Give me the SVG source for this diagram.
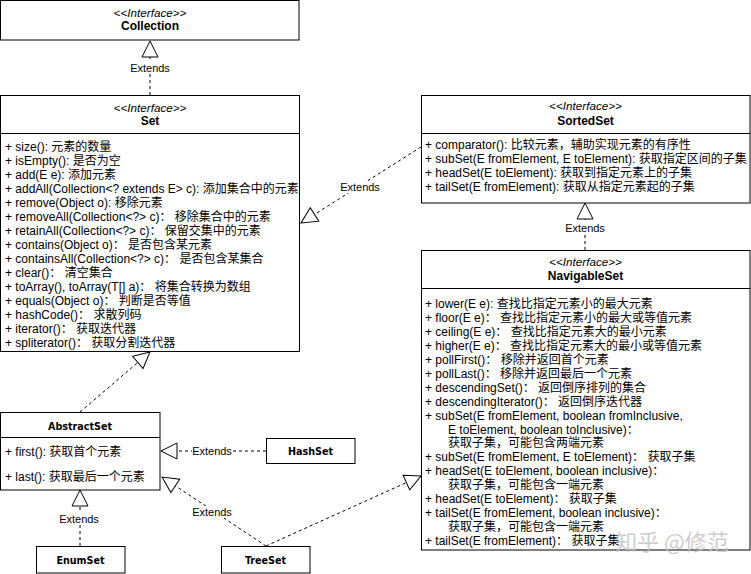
<svg xmlns="http://www.w3.org/2000/svg" width="751" height="574" viewBox="0 0 751 574">
<style>
.box{fill:#fff;stroke:#000;stroke-width:1}
.div{stroke:#000;stroke-width:1}
.st{font-family:"Liberation Sans","Noto Sans CJK SC",sans-serif;font-style:italic;font-size:11.7px;text-anchor:middle;fill:#000}
.nm{font-family:"Liberation Sans","Noto Sans CJK SC",sans-serif;font-weight:bold;font-size:12px;text-anchor:middle;fill:#000}
.cl{font-family:"DejaVu Sans",sans-serif;font-weight:bold;font-size:9.6px;text-anchor:middle;fill:#000}
.t{font-family:"Liberation Sans","Noto Sans CJK SC",sans-serif;font-size:12px;fill:#000}
.lbl{font-family:"Liberation Sans",sans-serif;font-size:11px;text-anchor:middle;fill:#000}
.edge{fill:none;stroke:#000;stroke-width:1;stroke-dasharray:3 3;marker-end:url(#tri)}
.lblbg{fill:#fff}
</style>
<defs>
<marker id="tri" markerUnits="userSpaceOnUse" markerWidth="18" markerHeight="18" viewBox="-17 -9 18 18" refX="0" refY="0" orient="auto" overflow="visible">
<path d="M0,0 L-16,-8 L-16,8 Z" fill="#fff" stroke="#000" stroke-width="1" stroke-dasharray="none"/>
</marker>
</defs>
<rect width="751" height="574" fill="#fff"/>

<g id="connectors">
<line class="edge" x1="150" y1="95" x2="150" y2="41"/>
<line class="edge" x1="421" y1="147" x2="301" y2="223"/>
<line class="edge" x1="585" y1="250" x2="585" y2="203"/>
<line class="edge" x1="80" y1="412" x2="150" y2="352"/>
<line class="edge" x1="266" y1="451" x2="161" y2="451"/>
<line class="edge" x1="80" y1="546" x2="80" y2="490"/>
<line class="edge" x1="266" y1="546" x2="162" y2="477"/>
<line class="edge" x1="266" y1="546" x2="421" y2="476"/>
<rect class="lblbg" x="130" y="62" width="40" height="12"/>
<text class="lbl" x="150" y="72">Extends</text>
<rect class="lblbg" x="340" y="181" width="40" height="12"/>
<text class="lbl" x="360" y="191">Extends</text>
<rect class="lblbg" x="565" y="222" width="40" height="12"/>
<text class="lbl" x="585" y="232">Extends</text>
<rect class="lblbg" x="192" y="445" width="40" height="12"/>
<text class="lbl" x="212" y="455">Extends</text>
<rect class="lblbg" x="59" y="513" width="40" height="12"/>
<text class="lbl" x="79" y="523">Extends</text>
<rect class="lblbg" x="192" y="506" width="40" height="12"/>
<text class="lbl" x="212" y="516">Extends</text>
</g>

<g id="Collection">
<rect class="box" x="0.5" y="0.5" width="298.5" height="39.5"/>
<text class="st" x="150" y="17">&lt;&lt;Interface&gt;&gt;</text>
<text class="nm" x="150" y="29.5">Collection</text>
</g>

<g id="Set">
<rect class="box" x="0.5" y="95.5" width="299" height="256"/>
<line class="div" x1="0.5" y1="133.5" x2="299.5" y2="133.5"/>
<text class="st" x="150" y="111.5">&lt;&lt;Interface&gt;&gt;</text>
<text class="nm" x="150" y="124.5">Set</text>
<text class="t" x="5" y="150.7">+ size(): 元素的数量</text>
<text class="t" x="5" y="164.7">+ isEmpty(): 是否为空</text>
<text class="t" x="5" y="178.7">+ add(E e): 添加元素</text>
<text class="t" x="5" y="192.7">+ addAll(Collection&lt;? extends E&gt; c): 添加集合中的元素</text>
<text class="t" x="5" y="206.7">+ remove(Object o): 移除元素</text>
<text class="t" x="5" y="220.7">+ removeAll(Collection&lt;?&gt; c)： 移除集合中的元素</text>
<text class="t" x="5" y="234.7">+ retainAll(Collection&lt;?&gt; c)： 保留交集中的元素</text>
<text class="t" x="5" y="248.7">+ contains(Object o)： 是否包含某元素</text>
<text class="t" x="5" y="262.7">+ containsAll(Collection&lt;?&gt; c)： 是否包含某集合</text>
<text class="t" x="5" y="276.7">+ clear()： 清空集合</text>
<text class="t" x="5" y="290.7">+ toArray(), toArray(T[] a)： 将集合转换为数组</text>
<text class="t" x="5" y="304.7">+ equals(Object o)： 判断是否等值</text>
<text class="t" x="5" y="318.7">+ hashCode()： 求散列码</text>
<text class="t" x="5" y="332.7">+ iterator()： 获取迭代器</text>
<text class="t" x="5" y="346.7">+ spliterator()： 获取分割迭代器</text>
</g>

<g id="SortedSet">
<rect class="box" x="421.5" y="95.5" width="328.5" height="107.5"/>
<line class="div" x1="421.5" y1="133.5" x2="750" y2="133.5"/>
<text class="st" x="585.5" y="110">&lt;&lt;Interface&gt;&gt;</text>
<text class="nm" x="585.5" y="124.5">SortedSet</text>
<text class="t" x="425" y="149">+ comparator(): 比较元素，辅助实现元素的有序性</text>
<text class="t" x="425" y="163">+ subSet(E fromElement, E toElement): 获取指定区间的子集</text>
<text class="t" x="425" y="176.8">+ headSet(E toElement): 获取到指定元素上的子集</text>
<text class="t" x="425" y="190.7">+ tailSet(E fromElement): 获取从指定元素起的子集</text>
</g>

<g id="NavigableSet">
<rect class="box" x="421.5" y="250.5" width="328.5" height="299.5"/>
<line class="div" x1="421.5" y1="288.5" x2="750" y2="288.5"/>
<text class="st" x="585.5" y="265.5">&lt;&lt;Interface&gt;&gt;</text>
<text class="nm" x="585.5" y="280">NavigableSet</text>
<text class="t" x="425" y="308">+ lower(E e): 查找比指定元素小的最大元素</text>
<text class="t" x="425" y="321.9">+ floor(E e)： 查找比指定元素小的最大或等值元素</text>
<text class="t" x="425" y="335.9">+ ceiling(E e)： 查找比指定元素大的最小元素</text>
<text class="t" x="425" y="349.8">+ higher(E e)： 查找比指定元素大的最小或等值元素</text>
<text class="t" x="425" y="363.8">+ pollFirst()： 移除并返回首个元素</text>
<text class="t" x="425" y="377.7">+ pollLast()： 移除并返回最后一个元素</text>
<text class="t" x="425" y="391.6">+ descendingSet()： 返回倒序排列的集合</text>
<text class="t" x="425" y="405.6">+ descendingIterator()： 返回倒序迭代器</text>
<text class="t" x="425" y="419.5">+ subSet(E fromElement, boolean fromInclusive,</text>
<text class="t" x="448" y="433.5">E toElement, boolean toInclusive)：</text>
<text class="t" x="448" y="447.4">获取子集，可能包含两端元素</text>
<text class="t" x="425" y="461.3">+ subSet(E fromElement, E toElement)： 获取子集</text>
<text class="t" x="425" y="475.3">+ headSet(E toElement, boolean inclusive)：</text>
<text class="t" x="448" y="489.2">获取子集，可能包含一端元素</text>
<text class="t" x="425" y="503.2">+ headSet(E toElement)： 获取子集</text>
<text class="t" x="425" y="517.1">+ tailSet(E fromElement, boolean inclusive)：</text>
<text class="t" x="448" y="531">获取子集，可能包含一端元素</text>
<text class="t" x="425" y="545">+ tailSet(E fromElement)： 获取子集</text>
</g>

<g id="AbstractSet">
<rect class="box" x="0.5" y="412.5" width="159.5" height="77.5"/>
<line class="div" x1="0.5" y1="437.5" x2="160" y2="437.5"/>
<text class="cl" x="80" y="429.5">AbstractSet</text>
<text class="t" x="5" y="456">+ first(): 获取首个元素</text>
<text class="t" x="5" y="481">+ last(): 获取最后一个元素</text>
</g>

<g id="HashSet">
<rect class="box" x="266.5" y="438.5" width="88.5" height="25"/>
<text class="cl" x="310.5" y="454.5">HashSet</text>
</g>

<g id="EnumSet">
<rect class="box" x="36.5" y="546.5" width="88.5" height="26.5"/>
<text class="cl" x="80.5" y="563.5">EnumSet</text>
</g>

<g id="TreeSet">
<rect class="box" x="221.5" y="546.5" width="88.5" height="26.5"/>
<text class="cl" x="265.5" y="563.5">TreeSet</text>
</g>

<text x="672" y="550" font-family="Noto Sans CJK SC,sans-serif" font-size="22" text-anchor="middle" fill="#c4c4c4" fill-opacity="0.85">知乎 @修范</text>
</svg>
